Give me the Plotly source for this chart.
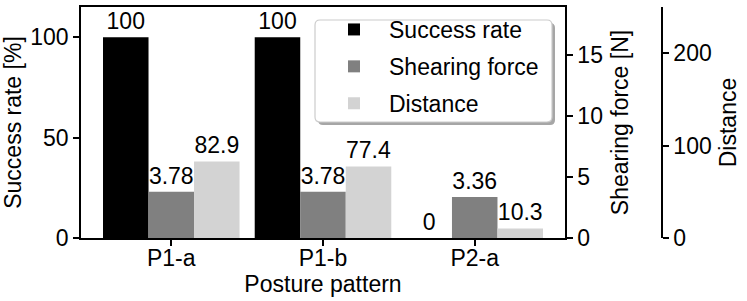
import plotly.graph_objects as go

categories = ["P1-a", "P1-b", "P2-a"]
success_rate = [100, 100, 0]
shearing_force = [3.78, 3.78, 3.36]
distance = [82.9, 77.4, 10.3]
success_labels = ["100", "100", "0"]
shear_labels = ["3.78", "3.78", "3.36"]
distance_labels = ["82.9", "77.4", "10.3"]

FONT = "Liberation Sans, Arial, sans-serif"
FS = 23
W, H = 747, 301
ML, MR, MT, MB = 81, 20, 7, 63
PW = W - ML - MR
PH = H - MT - MB
x_end = (565 - ML) / PW
y3_pos = (662 - ML) / PW


def px(x):
    return (x - ML) / PW


def py(y):
    return 1 - (y - MT) / PH


fig = go.Figure()
common = dict(width=0.3, textposition="outside", cliponaxis=False,
              textfont=dict(size=FS, color="black", family=FONT), marker_line_width=0)
fig.add_trace(go.Bar(x=categories, y=success_rate, name="Success rate", marker_color="black",
                     offset=-0.45, text=success_labels, yaxis="y", legendgroup="a", **common))
fig.add_trace(go.Bar(x=categories, y=shearing_force, name="Shearing force", marker_color="#808080",
                     offset=-0.15, text=shear_labels, yaxis="y2", legendgroup="b", **common))
fig.add_trace(go.Bar(x=categories, y=distance, name="Distance", marker_color="#d3d3d3",
                     offset=0.15, text=distance_labels, yaxis="y3", legendgroup="c", **common))

axis_common = dict(showgrid=False, zeroline=False, showline=True, linecolor="black", linewidth=1.5,
                   ticks="outside", ticklen=6, tickwidth=1.5, tickcolor="black",
                   tickfont=dict(size=FS, color="black", family=FONT), automargin=False)


def rounded_rect(x0, y0, x1, y1, r):
    X = lambda v: px(v)
    Y = lambda v: py(v)
    return (f"M {X(x0 + r)} {Y(y0)} L {X(x1 - r)} {Y(y0)} Q {X(x1)} {Y(y0)} {X(x1)} {Y(y0 + r)} "
            f"L {X(x1)} {Y(y1 - r)} Q {X(x1)} {Y(y1)} {X(x1 - r)} {Y(y1)} "
            f"L {X(x0 + r)} {Y(y1)} Q {X(x0)} {Y(y1)} {X(x0)} {Y(y1 - r)} "
            f"L {X(x0)} {Y(y0 + r)} Q {X(x0)} {Y(y0)} {X(x0 + r)} {Y(y0)} Z")


legend_box = (315, 20, 552, 122)
shapes = [
    dict(type="path", xref="paper", yref="paper", layer="above",
         path=rounded_rect(legend_box[0] + 3, legend_box[1] + 3, legend_box[2] + 3, legend_box[3] + 3, 5),
         fillcolor="#a6a6a6", line=dict(width=0)),
    dict(type="path", xref="paper", yref="paper", layer="above",
         path=rounded_rect(*legend_box, 5),
         fillcolor="white", line=dict(color="#cccccc", width=1.2)),
]

fig.update_layout(
    width=W, height=H, template=None,
    paper_bgcolor="white", plot_bgcolor="white",
    margin=dict(l=ML, r=MR, t=MT, b=MB),
    barmode="overlay",
    font=dict(family=FONT, size=FS, color="black"),
    xaxis=dict(domain=[0, x_end], range=[-0.595, 2.595], mirror=True, ticklabelstandoff=-7,
               title=dict(text="Posture pattern", font=dict(size=FS), standoff=5), **axis_common),
    yaxis=dict(range=[0, 115], tickvals=[0, 50, 100],
               title=dict(text="Success rate [%]", font=dict(size=FS), standoff=7), **axis_common),
    yaxis2=dict(range=[0, 18.9], tickvals=[0, 5, 10, 15], overlaying="y", side="right", anchor="x",
                title=dict(text="Shearing force [N]", font=dict(size=FS), standoff=10), **axis_common),
    yaxis3=dict(range=[0, 250], tickvals=[0, 100, 200], overlaying="y", side="right", anchor="free",
                position=y3_pos,
                title=dict(text="Distance", font=dict(size=FS), standoff=8), **axis_common),
    legend=dict(x=px(319), y=py(8), xanchor="left", yanchor="top", bgcolor="rgba(0,0,0,0)",
                borderwidth=0, font=dict(size=FS, family=FONT),
                itemwidth=60, tracegroupgap=4, traceorder="grouped"),
    shapes=shapes,
    showlegend=True,
)

fig.write_html("out.html", config={"displayModeBar": False},
               post_script="document.body.style.margin='0';")
